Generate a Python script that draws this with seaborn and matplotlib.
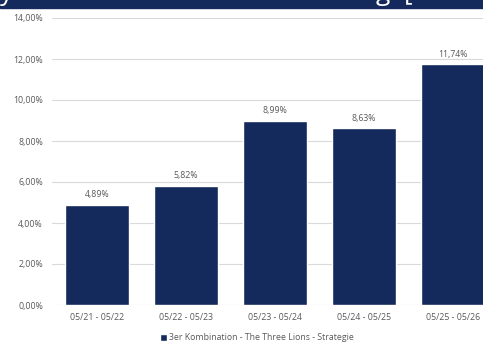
import matplotlib
matplotlib.use("Agg")
import matplotlib.pyplot as plt
import seaborn as sns
import pandas as pd
from matplotlib.patches import Rectangle

# data
periods = ["05/21 - 05/22", "05/22 - 05/23", "05/23 - 05/24", "05/24 - 05/25", "05/25 - 05/26"]
returns = [4.89, 5.82, 8.99, 8.63, 11.74]
series_name = "3er Kombination - The Three Lions - Strategie"
y_ticks = [0, 2, 4, 6, 8, 10, 12, 14]

navy = "#142a5c"
grey_text = "#595959"
grid_col = "#d9d9d9"

df = pd.DataFrame({"Zeitraum": periods, "Rendite": returns, "Serie": series_name})

sns.set_style("white")
plt.rcParams["font.family"] = ["Open Sans", "DejaVu Sans"]

fig = plt.figure(figsize=(4.83, 3.45), dpi=100)
ax = fig.add_axes([52 / 483, 40 / 345, 1 - 52 / 483, (305 - 18) / 345])

sns.barplot(data=df, x="Zeitraum", y="Rendite", hue="Serie", palette=[navy],
            width=0.71, saturation=1, ax=ax, legend=True)

ax.set_ylim(0, 14)
ax.set_xlim(-0.506, 4.337)
ax.set_yticks(y_ticks)
ax.set_yticklabels([f"{t:.2f}%".replace(".", ",") for t in y_ticks])
ax.yaxis.grid(True, color=grid_col, linewidth=0.8)
ax.set_axisbelow(True)
for s in ax.spines.values():
    s.set_visible(False)
ax.tick_params(axis="both", length=0, labelsize=6.3, colors=grey_text)
ax.tick_params(axis="y", pad=6.5)
ax.tick_params(axis="x", pad=6)
ax.set_xlabel("")
ax.set_ylabel("")

for cont in ax.containers:
    ax.bar_label(cont, labels=[f"{v:.2f}%".replace(".", ",") for v in returns],
                 padding=4, fontsize=6.3, color=grey_text)

leg = ax.legend(loc="center", bbox_to_anchor=(257 / 483, 7 / 345),
                bbox_transform=fig.transFigure, frameon=False, fontsize=6.3,
                handlelength=0.8, handleheight=0.8, handletextpad=0.3,
                borderpad=0, borderaxespad=0)
for t in leg.get_texts():
    t.set_color(grey_text)

# cropped title banner at the top
fig.patches.append(Rectangle((0, 1 - 7.5 / 345), 1, 7.5 / 345, transform=fig.transFigure,
                             color=navy, zorder=5))
for txt, x in [("y", 0 / 483), ("g  [", 376 / 483), ("/", 466 / 483)]:
    fig.text(x, 1 + 0.5 / 345, txt, color="white", fontsize=19, va="baseline",
             ha="left", zorder=6)

fig.savefig("out.png", dpi=100)
